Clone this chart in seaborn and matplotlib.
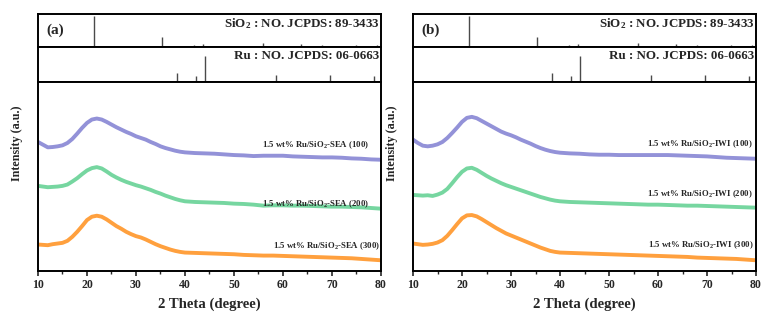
import numpy as np
import pandas as pd
import matplotlib
matplotlib.use("Agg")
import matplotlib.pyplot as plt
import seaborn as sns

sns.set_style("ticks")
plt.rcParams['font.family'] = ['Liberation Serif', 'DejaVu Serif']
plt.rcParams['font.weight'] = 'bold'
plt.rcParams['mathtext.fontset'] = 'custom'
plt.rcParams['mathtext.rm'] = 'Liberation Serif:bold'
plt.rcParams['mathtext.it'] = 'Liberation Serif:bold'
plt.rcParams['mathtext.bf'] = 'Liberation Serif:bold'

# ---------------- data ----------------
two_theta = list(range(10, 41)) + list(range(42, 81, 2))

sea_100 = [385, 377, 369, 370, 372, 375, 382, 394, 410, 427, 442, 452, 455, 452, 445, 437,
           429, 422, 415, 409, 402, 397, 392, 385, 379, 372, 367, 363, 359, 356, 354,
           352, 351, 350, 348, 346, 345, 343, 344, 344, 344, 342, 341, 340, 339, 339, 338,
           336, 335, 333, 332]
sea_200 = [254, 252, 250, 251, 252, 254, 258, 267, 277, 289, 300, 307, 310, 306, 297, 287,
           279, 272, 266, 261, 256, 252, 247, 242, 236, 231, 225, 220, 215, 211, 208,
           206, 205, 204, 203, 201, 200, 198, 195, 196, 196, 195, 195, 194, 193, 192, 192,
           191, 190, 188, 186]
sea_300 = [79, 78, 77, 80, 82, 84, 90, 102, 117, 134, 152, 162, 165, 162, 154, 144,
           134, 126, 117, 110, 104, 100, 94, 87, 80, 74, 69, 64, 60, 57, 55,
           54, 53, 52, 51, 50, 48, 47, 46, 46, 45, 44, 43, 42, 41, 40, 39,
           38, 36, 34, 32]

iwi_100 = [392, 382, 374, 372, 374, 378, 385, 397, 412, 428, 445, 457, 460, 456, 448, 440,
           432, 424, 416, 410, 405, 399, 392, 386, 380, 373, 367, 362, 358, 355, 353,
           351, 350, 348, 347, 347, 346, 346, 346, 346, 346, 346, 345, 344, 343, 342, 340,
           338, 337, 336, 335]
iwi_200 = [227, 226, 225, 226, 224, 228, 234, 245, 262, 280, 296, 306, 308, 302, 293, 284,
           276, 269, 262, 256, 251, 246, 241, 236, 231, 226, 221, 217, 213, 210, 208,
           206, 205, 204, 203, 202, 201, 200, 199, 198, 198, 197, 196, 195, 195, 194, 193,
           192, 191, 190, 189]
iwi_300 = [82, 80, 78, 79, 81, 85, 92, 105, 122, 140, 157, 166, 167, 163, 155, 146,
           137, 128, 120, 112, 106, 100, 94, 88, 82, 76, 70, 65, 60, 57, 55,
           54, 53, 52, 51, 50, 49, 48, 47, 46, 45, 44, 43, 42, 40, 39, 38,
           37, 36, 34, 32]

sio2_pos = [21.4, 35.4, 41.8, 43.7, 51.0, 55.9, 63.7, 68.0, 74.9, 79.1]
sio2_int = [100, 33, 6, 10, 4, 14, 10, 6, 5, 8]
ru_pos = [38.4, 42.2, 44.0, 58.5, 69.6, 78.6]
ru_int = [27, 17, 81, 21, 21, 20]

sea_labels = ['1.5 wt% Ru/SiO$_2$-SEA (100)', '1.5 wt% Ru/SiO$_2$-SEA (200)', '1.5 wt% Ru/SiO$_2$-SEA (300)']
iwi_labels = ['1.5 wt% Ru/SiO$_2$-IWI (100)', '1.5 wt% Ru/SiO$_2$-IWI (200)', '1.5 wt% Ru/SiO$_2$-IWI (300)']
ref_labels = ['SiO$_2$ : NO. JCPDS: 89-3433', 'Ru : NO. JCPDS: 06-0663']
panel_tags = ['(a)', '(b)']
x_ticks = [10, 20, 30, 40, 50, 60, 70, 80]

colors = ['#8d8cd6', '#6fd49b', '#ff9b33']
stick_color = '#4a4a4a'

W, H = 780, 321
fig = plt.figure(figsize=(W / 100, H / 100), dpi=100)

def fx(px):
    return px / W

def fy(py):
    return 1 - py / H

panels = [
    (38, 381, [sea_100, sea_200, sea_300], sea_labels,
     [(77.6, 375), (77.6, 200), (79.8, 75)]),
    (413, 756, [iwi_100, iwi_200, iwi_300], iwi_labels,
     [(79.2, 377), (79.2, 229), (79.6, 77)]),
]

rows = [(14, 47), (47, 82), (82, 271)]

for pi, (x0, x1, series, labels, lpos) in enumerate(panels):
    axs = []
    for (t, b) in rows:
        ax = fig.add_axes([fx(x0), fy(b), fx(x1 - x0), (b - t) / H])
        axs.append(ax)
    ax_s, ax_r, ax_m = axs

    # reference sticks
    for ax, pos, inten, lab in [(ax_s, sio2_pos, sio2_int, ref_labels[0]),
                                (ax_r, ru_pos, ru_int, ref_labels[1])]:
        ax.vlines(pos, 0, inten, color=stick_color, lw=1.0)
        ax.set_xlim(10, 80)
        ax.set_ylim(0, 108)
        ax.set_xticks([])
        ax.set_yticks([])
        ax.text(0.995, 0.92, lab, transform=ax.transAxes, ha='right', va='top',
                fontsize=9.4, fontweight='bold')
        for s in ax.spines.values():
            s.set_linewidth(1.4)
            s.set_color('black')
    ax_s.text(0.025, 0.5, panel_tags[pi], transform=ax_s.transAxes, ha='left', va='center',
              fontsize=11, fontweight='bold')

    # XRD curves
    for yvals, c in zip(series, colors):
        df = pd.DataFrame({'two_theta': two_theta, 'intensity': yvals})
        sns.lineplot(data=df, x='two_theta', y='intensity', ax=ax_m, color=c, lw=2.8,
                     alpha=0.95)
    for lab, (lx, ly) in zip(labels, lpos):
        ax_m.text(lx, ly, lab, ha='right', va='center', fontsize=6.3, fontweight='bold')

    ax_m.set_xlim(10, 80)
    ax_m.set_ylim(0, 564)
    ax_m.set_xticks(x_ticks)
    ax_m.set_xticklabels([str(t) for t in x_ticks], fontsize=8.5, fontweight='bold')
    ax_m.set_xticks([15, 25, 35, 45, 55, 65, 75], minor=True)
    ax_m.set_yticks([])
    ax_m.tick_params(axis='x', which='major', direction='out', length=3.5, width=1.2, pad=2)
    ax_m.tick_params(axis='x', which='minor', direction='out', length=2, width=1.0)
    ax_m.set_xlabel('2 Theta (degree)', fontsize=10.6, fontweight='bold', labelpad=5)
    ax_m.set_ylabel('')
    for s in ax_m.spines.values():
        s.set_linewidth(1.4)
        s.set_color('black')

    fig.text(fx(x0 - 21), fy(143), 'Intensity (a.u.)', rotation=90, ha='center', va='center',
             fontsize=8.7, fontweight='bold')

fig.savefig('out.png', dpi=100)
